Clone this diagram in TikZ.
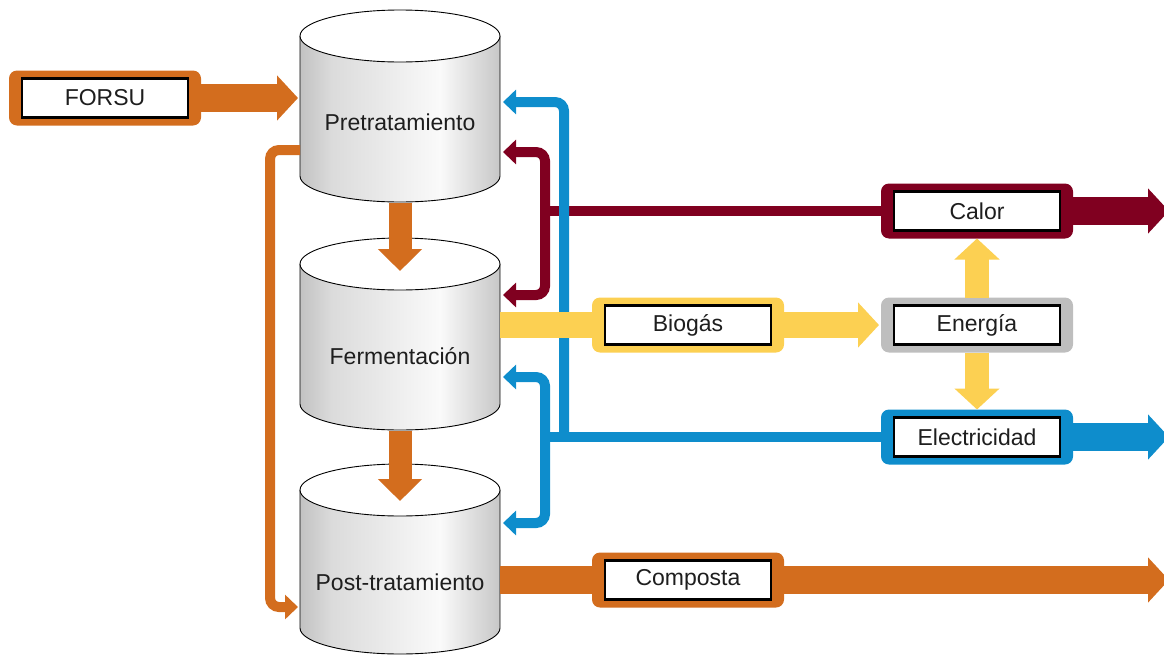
\documentclass[tikz,border=0pt]{standalone}
\usepackage{fontspec}
\setmainfont{Liberation Sans}
\usetikzlibrary{arrows.meta,calc}
\definecolor{cOr}{RGB}{211,109,30}
\definecolor{cRed}{RGB}{128,0,32}
\definecolor{cBlue}{RGB}{14,141,204}
\definecolor{cYel}{RGB}{252,208,82}
\definecolor{cGray}{RGB}{190,190,190}
\definecolor{cTxt}{RGB}{30,30,30}
\definecolor{tkA}{gray}{0.76}
\definecolor{tkB}{gray}{0.86}
\definecolor{tkC}{gray}{0.98}
\definecolor{tkD}{gray}{0.78}
\pgfdeclarehorizontalshading{tankshade}{100bp}{color(0bp)=(tkA); color(25bp)=(tkA); color(33bp)=(tkB); color(60bp)=(tkC); color(75bp)=(tkD); color(100bp)=(tkD)}
\newcommand{\drawtank}[3]{%
  \shade[shading=tankshade] (300,#2) -- (300,#3) arc[start angle=180,end angle=360,x radius=100pt,y radius=26pt] -- (500,#2) arc[start angle=360,end angle=180,x radius=100pt,y radius=26pt] -- cycle;
  \draw[line width=0.9pt] (300,#2) -- (300,#3) arc[start angle=180,end angle=360,x radius=100pt,y radius=26pt] -- (500,#2);
  \draw[line width=0.9pt,fill=white] (400,#2) ellipse[x radius=100pt,y radius=26pt];
  \node[body] (#1) at (400,{(#2+#3)/2}) {};
}
\begin{document}
\begin{tikzpicture}[x=1pt,y=-1pt,
  txt/.style={font=\fontsize{23}{27}\selectfont, text=cTxt},
  body/.style={draw=none, minimum width=200pt, minimum height=140pt, inner sep=0pt, outer sep=0pt},
  outerbox/.style={rounded corners=8pt, minimum width=192pt, minimum height=55pt, inner sep=0pt, outer sep=0pt, fill=#1},
  innerbox/.style={txt, draw=black, line width=2.4pt, fill=white, minimum width=166pt, minimum height=39pt, inner sep=0pt},
  pipe/.style={line width=10pt, rounded corners=9pt, draw=#1},
  pipearrow/.style={pipe=#1, -{Triangle[length=13pt,width=24pt]}},
  flow/.style={line width=28pt, draw=#1},
  flowarrow/.style={flow=#1, -{Triangle[length=21pt,width=44pt]}},
]
\useasboundingbox (0,0) rectangle (1164,656);

% tanks
\drawtank{pre}{36}{176}
\drawtank{fer}{264}{404}
\drawtank{post}{490}{628}
\node[txt] (preT) at (400,122) {Pretratamiento};
\node[txt] (ferT) at (400,356) {Fermentación};
\node[txt] (postT) at (400,582) {Post-tratamiento};

% label boxes (outer frames)
\node[outerbox=cOr] (forsuO) at (105,98) {};
\node[outerbox=cYel] (bioO) at (688,325) {};
\node[outerbox=cOr] (compO) at (688,580) {};
\node[outerbox=cRed] (calorO) at (977,211) {};
\node[outerbox=cGray] (enerO) at (977,325) {};
\node[outerbox=cBlue] (elecO) at (977,437) {};

\coordinate (rj) at (545,211);
\coordinate (bj) at (545,437);
\coordinate (bk) at (564,437);
\coordinate (calorEnd) at (1169,211);
\coordinate (elecEnd) at (1169,437);
\coordinate (compEnd) at (1169,580);

% orange return line
\draw[pipearrow=cOr] ([yshift=-44pt]pre.west) -- ++(-30,0) |- ([xshift=-2pt,yshift=-48pt]post.west);

% heat (red)
\draw[pipe=cRed] (calorO.west) -- (rj);
\draw[pipearrow=cRed] (rj) |- ([xshift=3pt,yshift=-46pt]pre.east);
\draw[pipearrow=cRed] (rj) |- ([xshift=3pt,yshift=39pt]fer.east);

% electricity (blue)
\draw[pipe=cBlue] (elecO.west) -- (bj);
\draw[pipearrow=cBlue] (bj) |- ([xshift=3pt,yshift=-43pt]fer.east);
\draw[pipearrow=cBlue] (bj) |- ([xshift=3pt,yshift=36pt]post.east);
\draw[pipearrow=cBlue] (bk) |- ([xshift=3pt,yshift=4pt]pre.east);

% biogas (yellow)
\draw[flow=cYel, line width=26pt] (fer.east |- bioO.west) -- (bioO.west);
\draw[flowarrow=cYel, line width=26pt] (bioO.east) -- ([xshift=-2pt]enerO.west);
\draw[flowarrow=cYel, line width=24pt] (enerO.north) -- (calorO.south);
\draw[flowarrow=cYel, line width=24pt] (enerO.south) -- (elecO.north);

% orange flows
\draw[flowarrow=cOr] (forsuO.east) -- ($(pre.west |- forsuO.east)+(-2,0)$);
\draw[flowarrow=cOr, line width=23pt, -{Triangle[length=22pt,width=43pt]}] ([yshift=-27pt]pre.south) -- ([yshift=-7pt]fer.north);
\draw[flowarrow=cOr, line width=23pt, -{Triangle[length=22pt,width=43pt]}] ([yshift=-27pt]fer.south) -- ([yshift=-12pt]post.north);
\draw[flow=cOr] (post.east |- compO.west) -- (compO.west);
\draw[flowarrow=cOr] (compO.east) -- (compEnd);

% outputs
\draw[flowarrow=cRed] (calorO.east) -- (calorEnd);
\draw[flowarrow=cBlue] (elecO.east) -- (elecEnd);

% inner label boxes
\node[innerbox] (forsu) at (forsuO) {FORSU};
\node[innerbox] (bio) at (bioO) {Biogás};
\node[innerbox] (comp) at (compO) {Composta};
\node[innerbox] (calor) at (calorO) {Calor};
\node[innerbox] (ener) at (enerO) {Energía};
\node[innerbox] (elec) at (elecO) {Electricidad};
\end{tikzpicture}
\end{document}
